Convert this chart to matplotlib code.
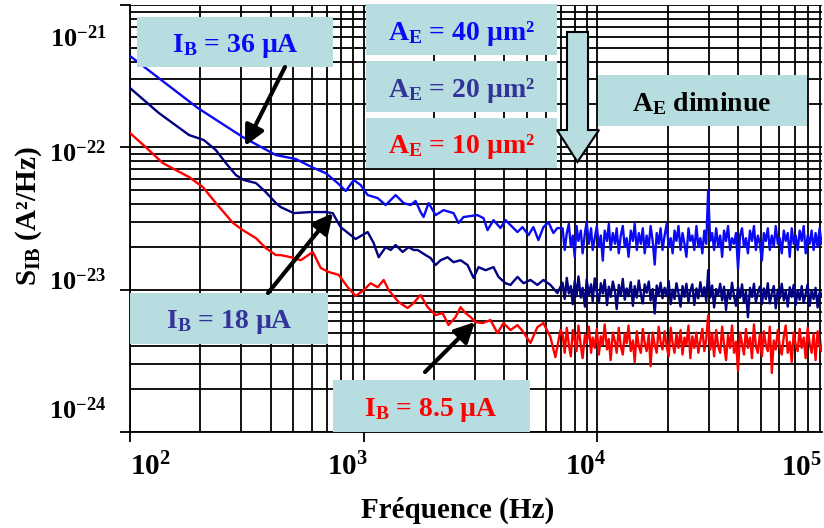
import numpy as np
import matplotlib
matplotlib.use('Agg')
import matplotlib.pyplot as plt
from matplotlib.patches import Rectangle, Polygon, FancyArrowPatch
from matplotlib.transforms import ScaledTranslation
from matplotlib.ticker import NullFormatter

plt.rcParams['font.family'] = ['Liberation Serif', 'DejaVu Serif']
plt.rcParams['font.weight'] = 'bold'
plt.rcParams['mathtext.fontset'] = 'custom'
plt.rcParams['mathtext.rm'] = 'Liberation Serif:bold'
plt.rcParams['mathtext.it'] = 'Liberation Serif:bold'
plt.rcParams['mathtext.bf'] = 'Liberation Serif:bold'
plt.rcParams['mathtext.default'] = 'rm'

# ---------------- data (S in units of 1e-24 A^2/Hz) ----------------
UNIT = 1e-24

# A_E = 40 um^2, I_B = 36 uA
freq_40 = [100, 195, 304, 421, 512, 611, 688, 774, 838, 907, 971, 1040, 1148, 1242,
           1370, 1483, 1588, 1668, 1752, 1804, 1896, 2032, 2198, 2424, 2547, 2676,
           3071, 3257, 3388, 3594, 3850, 4045, 4249, 4552, 4781, 5072, 5325, 5595,
           5878, 6174, 6486, 6745]
s_40 = [438, 189, 118, 88.3, 82.8, 71.6, 65.9, 56.1, 49.3, 58.9, 54.3, 46.2, 44.0, 39.3,
        46.2, 40.6, 39.3, 42.0, 35.1, 32.4, 40.6, 33.4, 36.2, 34.5, 29.4, 32.4,
        33.4, 31.8, 26.2, 30.8, 27.1, 30.8, 28.4, 25.4, 27.5, 24.2, 27.5, 22.3,
        27.5, 29.8, 25.0, 27.1]

# A_E = 20 um^2, I_B = 18 uA
freq_20 = [100, 133, 179, 207, 233, 257, 284, 307, 346, 381, 421, 442, 502, 594, 688,
           737, 797, 924, 1040, 1103, 1159, 1242, 1305, 1370, 1468, 1557, 1636, 1701,
           1841, 1933, 2032, 2134, 2286, 2424, 2598, 2783, 2953, 3101, 3322, 3594,
           3775, 4045, 4249, 4552, 4829, 5173, 5540, 5878, 6297, 6745]
s_20 = [261, 174, 122, 112.5, 95.7, 77.6, 63.8, 58.9, 56.1, 48.5, 40.6, 38.0, 34.5, 35.1, 35.1,
        34.5, 27.5, 22.7, 25.4, 21.3, 16.9, 19.9, 19.0, 20.6, 18.4, 19.9, 19.0, 19.0,
        17.5, 16.7, 14.9, 16.1, 16.9, 15.6, 16.1, 14.9, 12.1, 14.4, 13.7, 14.4,
        12.3, 11.1, 10.8, 12.3, 11.1, 11.7, 10.8, 11.7, 10.8, 9.46]

# A_E = 10 um^2, I_B = 8.5 uA
freq_10 = [100, 117, 138, 179, 205, 233, 276, 304, 346, 381, 421, 442, 488, 538, 606,
           655, 709, 782, 855, 924, 1000, 1071, 1148, 1218, 1279, 1411, 1542, 1636,
           1718, 1752, 1877, 2032, 2176, 2308, 2473, 2598, 2729, 2867, 3011, 3226,
           3489, 3737, 3966, 4249, 4552, 4829, 5173, 5540, 5878, 6297, 6614, 6950]
s_10 = [126, 100, 77.6, 61.8, 52.6, 40.6, 29.4, 26.2, 23.0, 19.6, 17.5, 17.5, 16.9, 16.1, 18.4,
        14.2, 13.3, 12.7, 10.4, 9.02, 9.93, 11.1, 10.4, 11.7, 9.93, 8.18, 7.43, 8.05,
        8.87, 9.16, 7.54, 6.63, 6.85, 5.64, 6.42, 7.54, 6.85, 6.42, 5.92, 5.82,
        6.12, 4.95, 5.82, 5.20, 5.64, 5.03, 4.22, 5.46, 5.82, 4.65, 3.36, 5.20]

# high-frequency (noisy) part, shared frequency bins
f_hf = [7100, 7250, 7400, 7550, 7700, 7850, 8000, 8150, 8300, 8500,
        8650, 8850, 9000, 9200, 9400, 9550, 9750, 9950, 10150, 10350,
        10550, 10750, 11000, 11200, 11400, 11650, 11900, 12100, 12350, 12600,
        12850, 13100, 13350, 13600, 13900, 14200, 14450, 14750, 15050, 15350,
        15650, 15950, 16250, 16600, 16900, 17250, 17600, 17950, 18300, 18650,
        19000, 19400, 19800, 20200, 20600, 21000, 21400, 21800, 22250, 22700,
        23150, 23600, 24050, 24550, 25000, 25500, 26000, 26550, 27050, 27600,
        28150, 28700, 29250, 29800, 30400, 31000, 31600, 32250, 32900, 33550,
        34200, 34850, 35550, 36250, 37000, 37700, 38450, 39200, 40000, 40800,
        41600, 42400, 43250, 44100, 45000, 45900, 46800, 47700, 48650, 49600,
        50600, 51600, 52600, 53650, 54700, 55800, 56900, 58000, 59200, 60350,
        61550, 62800, 64000, 65300, 66600, 67900, 69250, 70600, 72000, 73450,
        74900, 76400, 77900, 79450, 81000, 82600, 84250, 85900, 87600, 89350,
        91100, 92900]
s_40_hf = [27, 19, 25, 29, 20, 24, 17, 28, 22, 26,
           18, 25, 30, 21, 27, 19, 23, 28, 20, 24,
           16, 26, 22, 29, 19, 25, 21, 27, 18, 24,
           28, 20, 23, 17, 26, 22, 29, 19, 25, 21,
           27, 18, 24, 20, 28, 22, 15, 25, 21, 27,
           19, 24, 29, 20, 23, 18, 26, 22, 28, 19,
           25, 21, 17, 27, 22, 24, 19, 28, 20, 23,
           18, 26, 21, 50, 22, 25, 19, 27, 20, 24,
           17, 26, 22, 28, 19, 23, 21, 25, 14, 24,
           27, 20, 23, 18, 26, 22, 28, 19, 24, 21,
           16, 25, 22, 27, 19, 24, 20, 28, 21, 23,
           18, 26, 22, 25, 17, 27, 21, 24, 19, 26,
           22, 28, 18, 24, 21, 26, 19, 25, 20, 27,
           21, 24]
s_20_hf = [11.2, 8.6, 12.1, 9.4, 10.6, 7.9, 11.5, 9.0, 12.4, 8.8,
           10.3, 7.6, 11.8, 9.2, 10.9, 8.3, 12.0, 9.6, 8.1, 11.1,
           9.4, 11.7, 7.8, 10.5, 8.9, 11.4, 9.7, 7.3, 10.8, 9.1,
           11.9, 8.5, 10.2, 9.0, 11.3, 7.7, 10.6, 8.8, 11.6, 9.3,
           8.0, 10.9, 9.5, 11.4, 8.4, 10.1, 6.8, 10.7, 9.2, 11.2,
           8.7, 10.3, 9.0, 11.5, 7.9, 10.0, 8.6, 11.1, 9.4, 7.6,
           10.6, 8.9, 11.0, 8.2, 9.8, 10.9, 7.8, 10.2, 8.7, 11.3,
           9.0, 10.4, 8.3, 13.7, 8.8, 10.7, 7.5, 10.1, 9.2, 11.0,
           8.4, 10.5, 7.2, 9.9, 8.6, 11.2, 9.0, 7.7, 10.4, 8.8,
           10.9, 8.1, 9.7, 6.4, 10.3, 8.9, 11.0, 8.2, 9.6, 10.5,
           7.9, 10.2, 8.6, 11.1, 8.0, 9.5, 10.6, 7.4, 10.0, 8.7,
           11.0, 8.4, 9.8, 7.6, 10.4, 8.9, 10.8, 7.8, 9.9, 8.5,
           10.6, 8.1, 9.4, 10.9, 7.7, 9.8, 8.6, 10.3, 7.5, 9.6,
           8.9, 10.2]
s_10_hf = [4.9, 3.6, 5.4, 4.1, 3.4, 5.2, 4.4, 3.7, 5.6, 4.0,
           3.3, 4.8, 4.2, 5.5, 3.6, 4.6, 3.9, 5.3, 3.5, 4.7,
           4.1, 5.7, 3.8, 4.5, 3.2, 5.0, 4.3, 3.6, 5.4, 4.0,
           3.5, 4.9, 4.2, 5.6, 3.7, 4.4, 3.1, 5.1, 4.0, 3.6,
           5.3, 4.2, 3.7, 4.8, 2.9, 5.0, 4.1, 3.6, 5.5, 4.3,
           3.8, 5.1, 4.0, 3.4, 5.4, 4.2, 3.6, 4.9, 3.9, 5.2,
           3.5, 4.6, 4.1, 5.6, 3.3, 4.7, 3.9, 5.0, 3.6, 4.4,
           5.3, 3.7, 4.5, 6.6, 3.8, 4.9, 3.4, 5.2, 4.0, 3.6,
           5.5, 4.1, 3.2, 4.8, 3.9, 5.6, 3.6, 4.3, 2.7, 5.0,
           4.2, 3.5, 5.3, 3.9, 4.6, 3.3, 5.7, 4.0, 3.6, 4.9,
           3.4, 5.1, 4.1, 3.7, 5.5, 2.6, 4.4, 3.8, 5.2, 4.0,
           3.5, 4.7, 5.6, 3.6, 4.3, 3.1, 5.0, 4.1, 3.7, 5.3,
           3.9, 4.6, 3.3, 5.4, 4.2, 3.6, 4.9, 3.2, 5.1, 4.0,
           3.7, 4.8]

x_ticks = [1e2, 1e3, 1e4]
x_tick_labels = [r'$10^{2}$', r'$10^{3}$', r'$10^{4}$']
x_extra_label = r'$10^{5}$'
y_ticks = [1e-24, 1e-23, 1e-22, 1e-21]
y_tick_labels = [r'$10^{-24}$', r'$10^{-23}$', r'$10^{-22}$', r'$10^{-21}$']

BLUE = '#0A0AF5'
NAVY = '#000080'
RED = '#FF0000'
SLATE = '#333399'
TEAL = '#B8DDE0'

# ---------------- figure ----------------
W, H = 824, 528
fig = plt.figure(figsize=(W / 100, H / 100), dpi=100)
ax = fig.add_axes([130 / W, 96 / H, 692 / W, 427 / H])
ax.set_xscale('log')
ax.set_yscale('log')
ax.set_xlim(100, 9.15e4)
ax.set_ylim(1e-24, 1e-21)

LW = 1.7
ax.plot(freq_40 + f_hf, np.array(s_40 + s_40_hf) * UNIT, color=BLUE, lw=LW, zorder=3)
ax.plot(freq_20 + f_hf, np.array(s_20 + s_20_hf) * UNIT, color=NAVY, lw=LW, zorder=3)
ax.plot(freq_10 + f_hf, np.array(s_10 + s_10_hf) * UNIT, color=RED, lw=LW, zorder=3)

ax.grid(True, which='both', color='black', lw=1.3)
for s in ['top', 'right']:
    ax.spines[s].set_visible(False)
for s in ['left', 'bottom']:
    ax.spines[s].set_linewidth(1.3)

ax.set_xticks(x_ticks, labels=x_tick_labels, fontsize=21)
ax.set_yticks(y_ticks, labels=y_tick_labels, fontsize=19)
ax.xaxis.set_minor_formatter(NullFormatter())
ax.yaxis.set_minor_formatter(NullFormatter())
ax.tick_params(which='major', direction='out', length=7.2, width=1.3, color='black')
ax.tick_params(which='minor', length=0)
ax.tick_params(axis='x', pad=8)
ax.tick_params(axis='y', pad=10)

# label offsets (points) to mimic the hand-placed labels
x_off = [15.0, -11.5, -8.6]
for lab, dx in zip(ax.get_xticklabels(), x_off):
    lab.set_transform(lab.get_transform() + ScaledTranslation(dx / 72, 0, fig.dpi_scale_trans))
y_off = [17.3, 7.9, -2.9, -22.3]
for lab, dy in zip(ax.get_yticklabels(), y_off):
    lab.set_transform(lab.get_transform() + ScaledTranslation(0, dy / 72, fig.dpi_scale_trans))

ax.text(0.9697, -0.052, x_extra_label, transform=ax.transAxes, fontsize=21,
        ha='center', va='top')

ax.set_xlabel('Fréquence (Hz)', fontsize=21, fontweight='bold')
ax.xaxis.set_label_coords(0.474, -0.152)
ax.set_ylabel(r'S$_{\mathrm{IB}}$ (A²/Hz)', fontsize=21, fontweight='bold')
ax.yaxis.set_label_coords(-0.125, 0.506)


# ---------------- annotations (figure pixel layout) ----------------
def fx(px):
    return px / W


def fy(py):
    return 1 - py / H


def box(x0, y0, x1, y1):
    fig.add_artist(Rectangle((fx(x0), fy(y1)), (x1 - x0) / W, (y1 - y0) / H,
                             transform=fig.transFigure, facecolor=TEAL,
                             edgecolor='none', zorder=5))


def label(cx, base, s, color):
    fig.text(fx(cx), fy(base), s, color=color, fontsize=20, ha='center',
             va='baseline', zorder=6)


def arrow(tail, head):
    fig.add_artist(FancyArrowPatch((fx(tail[0]), fy(tail[1])), (fx(head[0]), fy(head[1])),
                                   transform=fig.transFigure,
                                   arrowstyle='-|>,head_length=0.6,head_width=0.3',
                                   mutation_scale=20, lw=3, color='black',
                                   shrinkA=0, shrinkB=0, zorder=7))


box(137, 17, 333, 67)
label(235, 52, r'I$_\mathrm{B}$ = 36 µA', BLUE)
box(130, 293, 328, 344)
label(229, 328, r'I$_\mathrm{B}$ = 18 µA', SLATE)
box(333, 380, 530, 432)
label(431, 416, r'I$_\mathrm{B}$ = 8.5 µA', RED)

box(366, 4, 557, 55)
label(461, 40, r'A$_\mathrm{E}$ = 40 µm²', BLUE)
box(366, 61, 557, 112)
label(461, 97, r'A$_\mathrm{E}$ = 20 µm²', SLATE)
box(366, 118, 557, 168)
label(461, 153, r'A$_\mathrm{E}$ = 10 µm²', RED)

box(598, 75, 807, 126)
label(702, 111, r'A$_\mathrm{E}$ diminue', 'black')

hollow = [(567, 32), (588, 32), (588, 130), (599, 130), (577.5, 162), (557, 130), (567, 130)]
fig.add_artist(Polygon([(fx(a), fy(b)) for a, b in hollow], closed=True,
                       transform=fig.transFigure, facecolor=TEAL,
                       edgecolor='black', lw=1.5, zorder=6))

arrow((285, 67), (245, 146))
arrow((268, 293), (333, 213))
arrow((425, 372), (475, 322))

fig.savefig('out.png', dpi=100)
